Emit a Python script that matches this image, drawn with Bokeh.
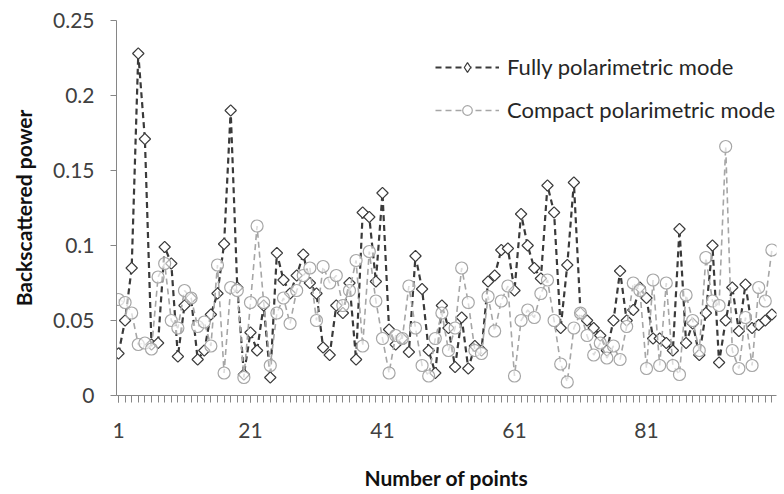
from bokeh.plotting import figure
from bokeh.models import FixedTicker, Legend, LegendItem, Range1d
from bokeh.embed import file_html
from bokeh.resources import INLINE
import math

points = list(range(1, 101))

fully = [0.028, 0.050, 0.085, 0.228, 0.171, 0.034, 0.035, 0.099, 0.088, 0.026,
         0.060, 0.065, 0.024, 0.030, 0.054, 0.068, 0.101, 0.190, 0.072, 0.014,
         0.042, 0.030, 0.060, 0.012, 0.095, 0.077, 0.068, 0.080, 0.094, 0.075,
         0.068, 0.032, 0.027, 0.060, 0.055, 0.075, 0.024, 0.122, 0.119, 0.076,
         0.135, 0.044, 0.034, 0.038, 0.029, 0.093, 0.071, 0.030, 0.015, 0.060,
         0.045, 0.019, 0.052, 0.018, 0.033, 0.030, 0.076, 0.080, 0.097, 0.098,
         0.070, 0.121, 0.100, 0.085, 0.078, 0.140, 0.122, 0.045, 0.087, 0.142,
         0.055, 0.050, 0.045, 0.040, 0.030, 0.050, 0.083, 0.050, 0.057, 0.072,
         0.065, 0.038, 0.038, 0.035, 0.030, 0.111, 0.035, 0.048, 0.027, 0.055,
         0.100, 0.022, 0.050, 0.072, 0.043, 0.074, 0.045, 0.047, 0.050, 0.054]

compact = [0.064, 0.062, 0.055, 0.034, 0.035, 0.031, 0.079, 0.088, 0.050, 0.045,
           0.070, 0.065, 0.046, 0.049, 0.033, 0.087, 0.015, 0.072, 0.070, 0.012,
           0.062, 0.113, 0.062, 0.020, 0.055, 0.065, 0.048, 0.070, 0.080, 0.085,
           0.050, 0.086, 0.075, 0.080, 0.060, 0.070, 0.090, 0.033, 0.096, 0.063,
           0.038, 0.015, 0.040, 0.038, 0.073, 0.045, 0.020, 0.013, 0.038, 0.055,
           0.030, 0.045, 0.085, 0.062, 0.030, 0.028, 0.066, 0.043, 0.063, 0.073,
           0.013, 0.050, 0.057, 0.052, 0.068, 0.077, 0.050, 0.021, 0.009, 0.045,
           0.055, 0.040, 0.027, 0.035, 0.025, 0.033, 0.024, 0.046, 0.075, 0.070,
           0.018, 0.077, 0.020, 0.075, 0.020, 0.014, 0.067, 0.050, 0.030, 0.092,
           0.063, 0.060, 0.166, 0.030, 0.018, 0.052, 0.020, 0.072, 0.063, 0.097]

x_labels = [1, 21, 41, 61, 81]
y_ticks = [0, 0.05, 0.1, 0.15, 0.2, 0.25]
y_labels = {0: "0", 0.05: "0.05", 0.1: "0.1", 0.15: "0.15", 0.2: "0.2", 0.25: "0.25"}
series_names = ["Fully polarimetric mode", "Compact polarimetric mode"]

FONT = "Lato"
DARK = "#3a3a3a"
LIGHT = "#a6a6a6"

p = figure(width=784, height=494, output_backend="svg", toolbar_location=None,
           x_range=Range1d(0.7, 100.7), y_range=Range1d(0, 0.25),
           min_border_left=116, min_border_right=8, min_border_top=20, min_border_bottom=99)
p.outline_line_color = None
p.grid.visible = False
p.background_fill_color = "white"
p.border_fill_color = "white"

# y axis
ya = p.yaxis[0]
ya.ticker = FixedTicker(ticks=y_ticks)
ya.major_label_overrides = y_labels
ya.axis_line_color = "#868686"
ya.major_tick_line_color = "#868686"
ya.major_tick_in = 0
ya.major_tick_out = 6
ya.minor_tick_line_color = None
ya.major_label_text_font = FONT
ya.major_label_text_font_size = "21px"
ya.major_label_text_color = "#404040"
ya.major_label_standoff = 16
ya.axis_label = "Backscattered power"
ya.axis_label_text_font = FONT
ya.axis_label_text_font_size = "21px"
ya.axis_label_text_font_style = "bold"
ya.axis_label_text_color = "#111111"
ya.axis_label_standoff = 14

# x axis
xa = p.xaxis[0]
xa.ticker = FixedTicker(ticks=x_labels, minor_ticks=points)
xa.axis_line_color = "#868686"
xa.major_tick_line_color = "#868686"
xa.minor_tick_line_color = "#868686"
xa.major_tick_in = 0
xa.major_tick_out = 7
xa.minor_tick_in = 0
xa.minor_tick_out = 7
xa.major_label_text_font = FONT
xa.major_label_text_font_size = "21px"
xa.major_label_text_color = "#404040"
xa.major_label_standoff = 20
xa.axis_label = "Number of points"
xa.axis_label_text_font = FONT
xa.axis_label_text_font_size = "21px"
xa.axis_label_text_font_style = "bold"
xa.axis_label_text_color = "#111111"
xa.axis_label_standoff = 24

# series
l1 = p.line(points, fully, line_color=DARK, line_width=2.2, line_dash="6 4")
m1 = p.scatter(points, fully, marker="square", angle=math.pi / 4, size=8,
               line_color=DARK, line_width=1.2, fill_color="white")
l2 = p.line(points, compact, line_color=LIGHT, line_width=1.6, line_dash="6 4")
m2 = p.scatter(points, compact, marker="circle", size=12,
               line_color=LIGHT, line_width=1.2, fill_color="white", fill_alpha=0.6)

# legend-only marker glyphs, placed outside the visible ranges
k1 = p.scatter([-50], [-1], marker="diamond", size=14, line_color=DARK, line_width=1.2,
               fill_color="white")
k2 = p.scatter([-50], [-1], marker="circle", size=12, line_color=LIGHT, line_width=1.2,
               fill_color="white")

legend = Legend(items=[LegendItem(label=series_names[0], renderers=[l1, k1], index=0),
                       LegendItem(label=series_names[1], renderers=[l2, k2], index=0)],
                location=(319, 272), orientation="vertical",
                glyph_width=64, glyph_height=24, label_height=24, spacing=16,
                label_standoff=8, padding=0, margin=0,
                border_line_alpha=0, background_fill_alpha=0,
                label_text_font=FONT, label_text_font_size="22px",
                label_text_color="#262626")
p.add_layout(legend)

open("out.html", "w").write(file_html(p, INLINE))
